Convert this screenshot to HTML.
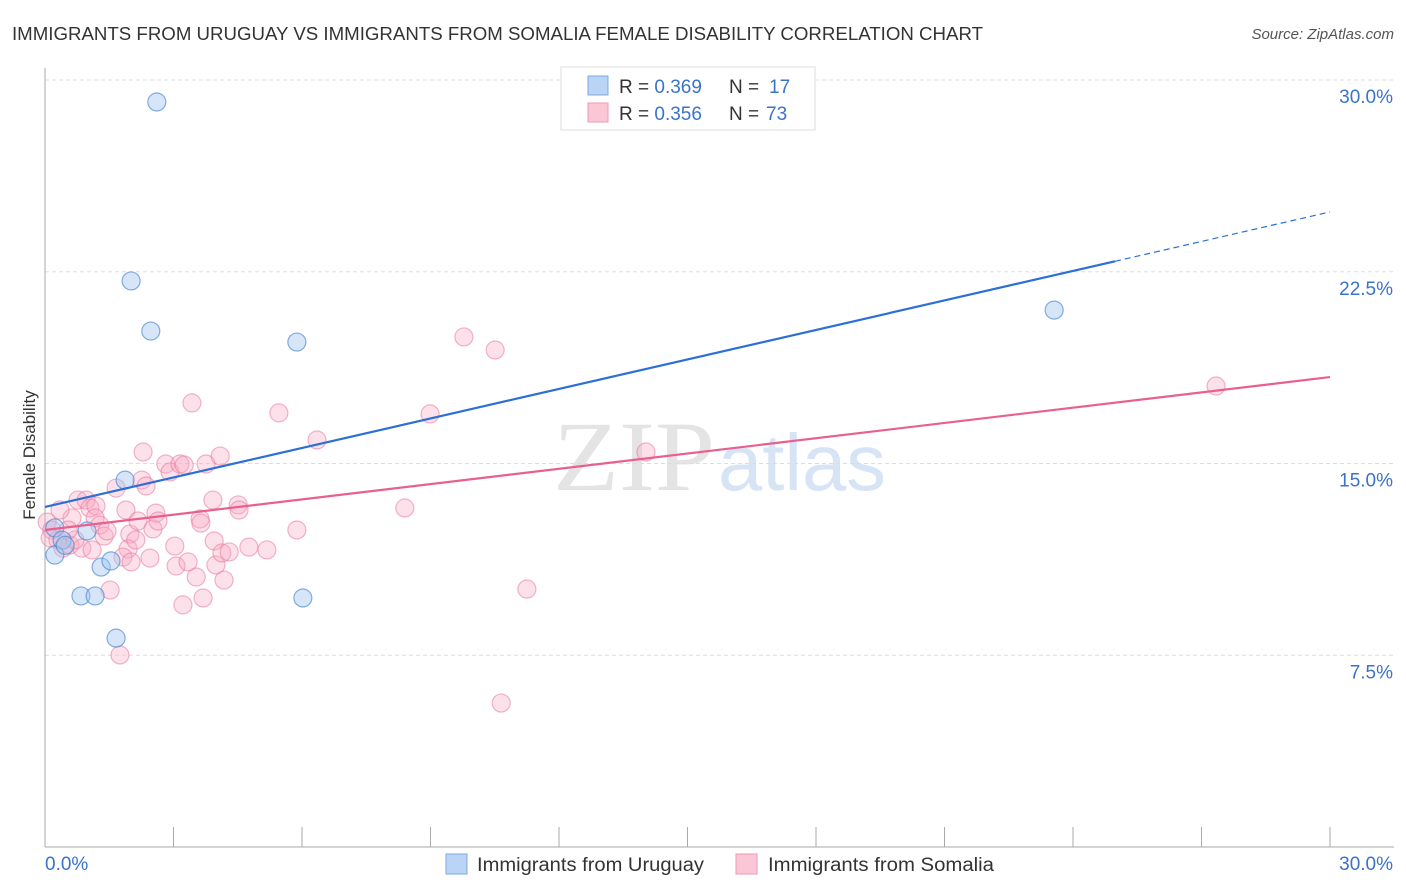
<!DOCTYPE html>
<html><head><meta charset="utf-8"><style>
body{margin:0;background:#fff;font-family:"Liberation Sans",sans-serif;}
svg{display:block}
</style></head><body>
<svg id="chart" width="1406" height="892" xmlns="http://www.w3.org/2000/svg">
<text x="12" y="40" font-size="18" fill="#333" textLength="971" lengthAdjust="spacingAndGlyphs">IMMIGRANTS FROM URUGUAY VS IMMIGRANTS FROM SOMALIA FEMALE DISABILITY CORRELATION CHART</text>
<text x="1394" y="39" font-size="15" fill="#555" font-style="italic" text-anchor="end">Source: ZipAtlas.com</text>
<g>
<text x="553" y="490" font-size="100" font-family="Liberation Serif,serif" fill="#e4e4e4" textLength="162" lengthAdjust="spacingAndGlyphs">ZIP</text>
<text x="718" y="490" font-size="80" fill="#d6e4f5" textLength="168" lengthAdjust="spacingAndGlyphs">atlas</text>
</g>
<g id="grid"></g>
<g id="axes"></g>
<g id="pts"></g>
<g id="lines"></g>
<text x="35" y="455" font-size="17" fill="#333" text-anchor="middle" transform="rotate(-90 35 455)">Female Disability</text>
<g>
<rect x="561" y="67" width="254" height="63" fill="#fff" stroke="#ddd"/>
<rect x="588" y="76" width="20" height="19" fill="#b9d4f5" stroke="#7ea9e0"/>
<rect x="588" y="103" width="20" height="19" fill="#fbc6d6" stroke="#ef9ab5"/>
<text x="619" y="93" font-size="19" fill="#333">R = <tspan fill="#3a73c8">0.369</tspan><tspan x="729">N = </tspan><tspan x="769" fill="#3a73c8">17</tspan></text>
<text x="619" y="120" font-size="19" fill="#333">R = <tspan fill="#3a73c8">0.356</tspan><tspan x="729">N = </tspan><tspan x="766" fill="#3a73c8">73</tspan></text>
</g>
<g>
<rect x="446" y="854" width="21" height="20" fill="#b9d4f5" stroke="#7ea9e0"/>
<text x="477" y="871" font-size="19" fill="#333" textLength="227" lengthAdjust="spacingAndGlyphs">Immigrants from Uruguay</text>
<rect x="736" y="854" width="21" height="20" fill="#fbc6d6" stroke="#ef9ab5"/>
<text x="768" y="871" font-size="19" fill="#333" textLength="226" lengthAdjust="spacingAndGlyphs">Immigrants from Somalia</text>
</g>
</svg>
<script>
const yTicks=[7.5,15,22.5,30];
const yTickLabels=["7.5%","15.0%","22.5%","30.0%"];
const xTickCount=10;
const uruguayX=[2.61,2.01,2.47,5.88,23.56,1.87,0.98,0.23,0.40,0.23,1.31,1.54,0.84,1.17,6.02,1.66,0.47];
const uruguayY=[29.14,22.14,20.18,19.75,21.0,14.35,12.36,12.48,12.0,11.42,10.95,11.19,9.82,9.82,9.74,8.17,11.8];
const somaliaX=[0.05,0.16,0.30,0.12,0.42,0.58,0.63,0.77,0.86,0.96,1.05,1.19,1.17,1.28,1.38,1.52,1.66,1.75,1.89,1.98,1.94,1.82,2.01,2.12,2.17,2.29,2.26,2.36,2.45,2.52,2.59,2.64,2.82,2.92,3.03,3.06,3.15,3.25,3.22,3.34,3.43,3.53,3.62,3.64,3.69,3.76,3.92,3.95,3.99,4.09,4.13,4.18,4.30,4.51,4.53,4.76,5.18,5.46,5.88,6.35,8.40,8.99,9.78,10.51,11.25,10.65,14.03,27.34,0.35,1.45,0.70,1.10,0.54];
const somaliaY=[12.71,12.40,12.01,12.09,11.69,11.81,12.87,13.57,11.69,13.57,13.26,13.34,12.87,12.59,12.16,10.05,14.04,7.51,13.18,12.24,11.66,11.34,11.15,12.01,12.75,15.45,14.35,14.12,11.30,12.44,13.06,12.75,14.98,14.67,11.77,10.99,14.98,14.94,9.47,11.15,17.37,10.56,12.83,12.67,9.74,14.98,13.57,11.97,11.03,15.29,11.50,10.44,11.54,13.38,13.18,11.73,11.62,16.98,12.40,15.92,13.26,16.94,19.95,19.44,10.09,5.63,15.45,18.03,13.18,12.36,12.01,11.62,12.40];
const uruguayTrend=[13.30,24.84];
const somaliaTrend=[12.40,18.38];
const uruguaySolidEnd=24.98;

const NS="http://www.w3.org/2000/svg";
const X0=45,X1=1330,Y0=847,Y1=80;
const sx=v=>X0+(v/30)*(X1-X0);
const sy=v=>Y0-(v/30)*(Y0-Y1);
function mk(tag,attrs,parent){const e=document.createElementNS(NS,tag);for(const k in attrs)e.setAttribute(k,attrs[k]);parent.appendChild(e);return e;}
const grid=document.getElementById('grid'),axes=document.getElementById('axes'),pts=document.getElementById('pts'),lines=document.getElementById('lines');
yTicks.forEach((t,i)=>{
  const l=mk('line',{x1:X0,x2:1394,y1:sy(t),y2:sy(t),stroke:'#ddd','stroke-dasharray':'4,3'},grid);
  
  
  const tx=mk('text',{x:1393,y:sy(t)+23,'font-size':19,fill:'#3a73c8','text-anchor':'end'},axes);
  tx.textContent=yTickLabels[i];
  
  
});
const yl=mk('line',{x1:X0,x2:X0,y1:68,y2:Y0,stroke:'#aaa'},axes);


const xl=mk('line',{x1:X0,x2:1394,y1:Y0,y2:Y0,stroke:'#aaa'},axes);


for(let i=0;i<=xTickCount;i++){
  const t=mk('line',{x1:sx(i*3),x2:sx(i*3),y1:Y0,y2:Y0-20,stroke:'#aaa'},axes);
  
  
}
const xa=mk('text',{x:45,y:870,'font-size':19,fill:'#3a73c8'},axes);xa.textContent='0.0%';


const xb=mk('text',{x:1393,y:870,'font-size':19,fill:'#3a73c8','text-anchor':'end'},axes);xb.textContent='30.0%';


somaliaX.forEach((x,i)=>{
  const c=mk('circle',{cx:sx(x),cy:sy(somaliaY[i]),r:9,fill:'rgba(248,170,195,0.35)',stroke:'rgba(232,120,155,0.55)','stroke-width':1.2},pts);
  
  
});
uruguayX.forEach((x,i)=>{
  const c=mk('circle',{cx:sx(x),cy:sy(uruguayY[i]),r:9,fill:'rgba(165,200,240,0.45)',stroke:'rgba(70,130,210,0.65)','stroke-width':1.2},pts);
  
  
});
const ub=v=>uruguayTrend[0]+(uruguayTrend[1]-uruguayTrend[0])*v/30;
const l1=mk('line',{x1:sx(0),y1:sy(ub(0)),x2:sx(uruguaySolidEnd),y2:sy(ub(uruguaySolidEnd)),stroke:'#2c6fd6','stroke-width':2.2},lines);


const l2=mk('line',{x1:sx(uruguaySolidEnd),y1:sy(ub(uruguaySolidEnd)),x2:sx(30),y2:sy(ub(30)),stroke:'#2c6fd6','stroke-width':1.2,'stroke-dasharray':'6,4'},lines);


const l3=mk('line',{x1:sx(0),y1:sy(somaliaTrend[0]),x2:sx(30),y2:sy(somaliaTrend[1]),stroke:'#e8608e','stroke-width':2.2},lines);


</script>
</body></html>
